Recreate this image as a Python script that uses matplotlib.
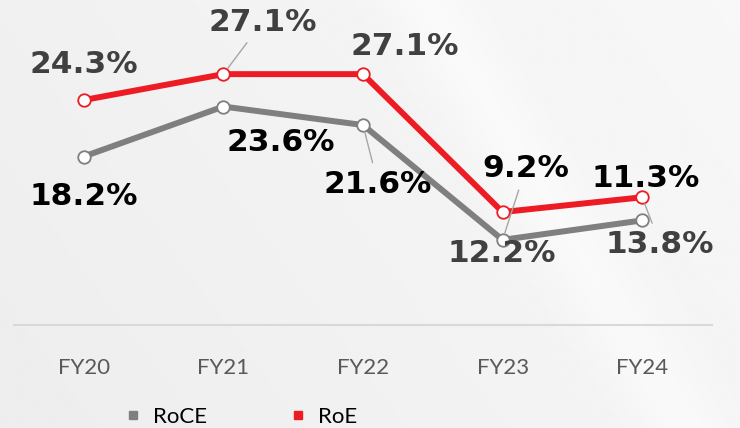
import numpy as np
import matplotlib.pyplot as plt
from matplotlib.lines import Line2D

# ── DATA ───────────────────────────────────────────────────
years = ['FY20', 'FY21', 'FY22', 'FY23', 'FY24']
roe   = [24.3, 27.1, 27.1, 12.2, 13.8]
roce  = [18.2, 23.6, 21.6, 9.2, 11.3]

# ── STYLE ──────────────────────────────────────────────────
RED   = '#ED1C24'
GREY  = '#7F7F7F'
LEAD  = '#A6A6A6'
LBL_FONT  = 'DejaVu Sans'
TICK_FONT = 'Lato'

# label offsets in pixels (dx, dy up) and whether a leader line is drawn
roe_off  = [(0, 36), (39, 52), (42, 28), (-1, -41), (18, -47)]
roe_lead = [False, True, False, False, True]
roce_off  = [(0, -40), (57, -36), (15, -59), (23, 71), (3, 42)]
roce_lead = [False, False, True, True, False]

fig = plt.figure(figsize=(7.4, 4.28), dpi=100)

# background gradient
bg = fig.add_axes([0, 0, 1, 1], zorder=-10)
yy, xx = np.mgrid[0:1:200j, 0:1:300j]
grad = 0.93 + 0.04 * (xx * 0.7 + (1 - yy) * 0.3)
band = np.exp(-((xx - 0.75 - 0.35 * (yy - 0.5)) ** 2) / 0.004) * 0.02
img = np.clip(grad + band, 0, 1)
bg.imshow(img, cmap='gray', vmin=0, vmax=1, aspect='auto', extent=[0, 1, 0, 1])
bg.axis('off')

ax = fig.add_axes([14 / 740, 103 / 428, 698 / 740, 324 / 428])
ax.set_facecolor('none')
x = np.arange(len(years))

ax.plot(x, roce, color=GREY, lw=4.3, marker='o', ms=9, mfc='white',
        mec=GREY, mew=1.3, solid_joinstyle='round', zorder=3)
ax.plot(x, roe, color=RED, lw=4.3, marker='o', ms=9, mfc='white',
        mec=RED, mew=1.3, solid_joinstyle='round', zorder=4)

def put_labels(vals, offs, leads, color):
    for xi, v, (dx, dy), ld in zip(x, vals, offs, leads):
        kw = {}
        if ld:
            kw['arrowprops'] = dict(arrowstyle='-', color=LEAD, lw=1,
                                    shrinkA=3, shrinkB=5)
        ax.annotate(f'{v:.1f}%', (xi, v), xytext=(dx * 0.72, dy * 0.72),
                    textcoords='offset points', ha='center', va='center',
                    fontsize=22.5, fontweight='bold', color=color,
                    family=LBL_FONT, zorder=6, **kw)

put_labels(roe, roe_off, roe_lead, '#404040')
put_labels(roce, roce_off, roce_lead, 'black')

ax.set_xlim(-0.5, len(years) - 0.5)
ax.set_ylim(0, 35)
ax.set_xticks(x)
ax.set_xticklabels(years, family=TICK_FONT, fontsize=16, color='#595959')
ax.tick_params(axis='x', length=0, pad=24)
ax.set_yticks([])
for s in ['top', 'right', 'left']:
    ax.spines[s].set_visible(False)
ax.spines['bottom'].set_color('#D9D9D9')
ax.spines['bottom'].set_linewidth(1.5)

handles = [Line2D([], [], ls='none', marker='s', ms=6, color=GREY),
           Line2D([], [], ls='none', marker='s', ms=6, color=RED)]
fig.legend(handles, ['RoCE', 'RoE'], loc='center', bbox_to_anchor=(242 / 740, 11 / 428),
           ncol=2, frameon=False, handlelength=0.6, handletextpad=0.6,
           columnspacing=3.8, prop={'family': TICK_FONT, 'size': 16})

plt.savefig('out.png', dpi=100, facecolor='white')
